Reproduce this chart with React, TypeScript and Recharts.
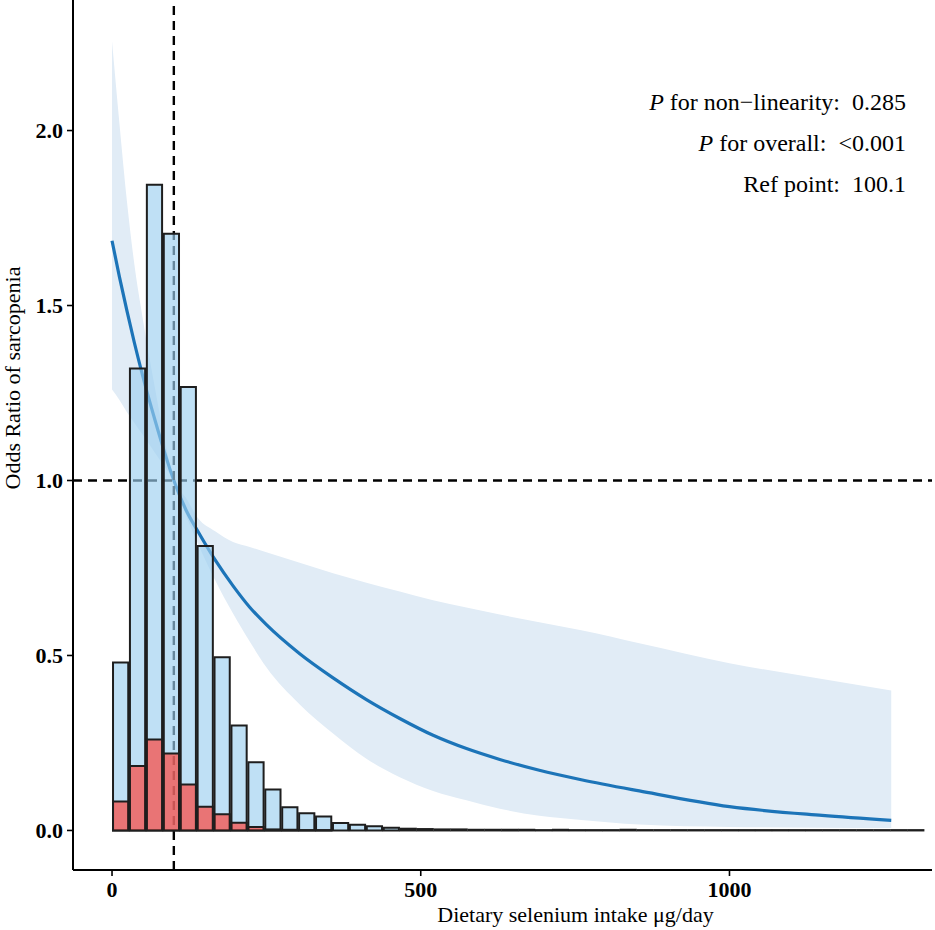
import { Area, Bar, ComposedChart, Customized, Line, ReferenceLine, XAxis, YAxis } from 'recharts'

const CHART_W = 935
const CHART_H = 930
const MARGIN = { top: 0, right: 3, bottom: 0, left: 0 }
const Y_AXIS_W = 73
const X_AXIS_H = 60
const X_DOMAIN: [number, number] = [-63.2, 1328]
const Y_DOMAIN: [number, number] = [-0.113, 2.373]
const BIN_WIDTH = 27.4
const REF_POINT = 100.1
const SERIF = '"Liberation Serif", "Times New Roman", serif'

const xTicks = [0, 500, 1000]
const yTicks = [0, 0.5, 1, 1.5, 2]

// histogram, scaled to the OR axis: everyone vs sarcopenia cases
const allCounts = [
  0.48, 1.32, 1.845, 1.705, 1.267, 0.813, 0.495, 0.3, 0.195, 0.117, 0.066, 0.049,
  0.04, 0.021, 0.016, 0.012, 0.008, 0.005, 0.004, 0.003, 0.003, 0.002, 0.002, 0.002,
  0.002, 0.001, 0.002, 0.001, 0.001, 0.001, 0.002, 0.001, 0.001, 0.001, 0.001, 0.001,
  0.001, 0.001, 0.001, 0.001, 0.001, 0.001, 0.001, 0.001, 0.001, 0.001, 0.001, 0.001,
]
const caseCounts = [
  0.083, 0.184, 0.26, 0.22, 0.131, 0.068, 0.046, 0.022, 0.01, 0.003, 0.002, 0.001,
  0.001,
]

// restricted cubic spline fit
const intakeGrid = [
  0, 12, 24, 36, 50, 70, 85, 100.1, 120, 139, 167, 196, 223, 250, 304, 358, 412, 466,
  520, 574, 628, 692, 760, 854, 1000, 1150, 1262,
]
const oddsRatio = [
  1.685, 1.582, 1.486, 1.395, 1.297, 1.17, 1.081, 1.0, 0.915, 0.855, 0.773, 0.699, 0.638,
  0.588, 0.505, 0.436, 0.374, 0.32, 0.272, 0.234, 0.203, 0.172, 0.145, 0.113, 0.068,
  0.043, 0.029,
]
const ciUpper = [
  2.255, 2.02, 1.8, 1.62, 1.46, 1.26, 1.12, 1.0, 0.95, 0.893, 0.855, 0.824, 0.81, 0.795,
  0.765, 0.735, 0.708, 0.683, 0.658, 0.637, 0.617, 0.595, 0.572, 0.535, 0.478, 0.433,
  0.4,
]
const ciLower = [
  1.26, 1.23, 1.196, 1.165, 1.13, 1.078, 1.039, 1.0, 0.9, 0.82, 0.715, 0.62, 0.54, 0.466,
  0.36, 0.277, 0.205, 0.152, 0.113, 0.086, 0.062, 0.042, 0.03, 0.017, 0.01, 0.008, 0.007,
]

const notes = [
  { italic: 'P', text: ' for non\u2212linearity:\u00a0\u00a00.285' },
  { italic: 'P', text: ' for overall:\u00a0\u00a0<0.001' },
  { italic: '', text: 'Ref point:\u00a0\u00a0100.1' },
]

const histRows = allCounts.map((total, i) => ({
  mid: (i + 0.5) * BIN_WIDTH,
  total,
  cases: caseCounts[i] ?? 0,
}))

const curveRows = intakeGrid.map((x, i) => ({
  x,
  or: oddsRatio[i],
  band: [ciLower[i], ciUpper[i]],
}))

const plotLeft = MARGIN.left + Y_AXIS_W
const plotWidth = CHART_W - plotLeft - MARGIN.right
const plotBottom = CHART_H - MARGIN.bottom - X_AXIS_H
const barPx = (BIN_WIDTH * plotWidth) / (X_DOMAIN[1] - X_DOMAIN[0])

const tickStyle = { fill: '#000', fontSize: 22, fontWeight: 700, fontFamily: SERIF }

function Titles() {
  const yCx = 12
  const yCy = 378
  return (
    <g fontFamily={SERIF} fill="#000">
      <text x={plotLeft + plotWidth / 2 + 73} y={plotBottom + 52} fontSize={22} textAnchor="middle">
        Dietary selenium intake μg/day
      </text>
      <text
        x={yCx}
        y={yCy}
        fontSize={22}
        textAnchor="middle"
        dominantBaseline="central"
        transform={`rotate(-90, ${yCx}, ${yCy})`}
      >
        Odds Ratio of sarcopenia
      </text>
      {notes.map((n, i) => (
        <text key={i} x={906} y={110 + i * 41} fontSize={24} textAnchor="end">
          {n.italic && <tspan fontStyle="italic">{n.italic}</tspan>}
          <tspan>{n.text}</tspan>
        </text>
      ))}
    </g>
  )
}

export default function App() {
  return (
    <>
      <style>{'body{margin:0;background:#fff}'}</style>
      <ComposedChart
        width={CHART_W}
        height={CHART_H}
        data={histRows}
        margin={MARGIN}
        barGap={0}
        barCategoryGap={0}
        style={{ fontFamily: SERIF }}
      >
        <XAxis
          xAxisId="curve"
          type="number"
          dataKey="x"
          domain={X_DOMAIN}
          allowDataOverflow
          ticks={xTicks}
          height={X_AXIS_H}
          axisLine={{ stroke: '#000', strokeWidth: 2 }}
          tickLine={{ stroke: '#000', strokeWidth: 1.6 }}
          tickSize={6}
          tickMargin={5}
          tick={tickStyle}
        />
        <XAxis xAxisId="hist" type="number" dataKey="mid" domain={X_DOMAIN} allowDataOverflow hide />
        <XAxis xAxisId="histCases" type="number" dataKey="mid" domain={X_DOMAIN} allowDataOverflow hide />
        <YAxis
          type="number"
          domain={Y_DOMAIN}
          allowDataOverflow
          ticks={yTicks}
          width={Y_AXIS_W}
          tickFormatter={(v) => Number(v).toFixed(1)}
          axisLine={{ stroke: '#000', strokeWidth: 2 }}
          tickLine={{ stroke: '#000', strokeWidth: 1.6 }}
          tickSize={6}
          tickMargin={4}
          tick={tickStyle}
        />
        <Area
          xAxisId="curve"
          data={curveRows}
          dataKey="band"
          type="monotone"
          fill="#e1ecf6"
          fillOpacity={1}
          stroke="none"
          isAnimationActive={false}
          zIndex={100}
        />
        <Line
          xAxisId="curve"
          data={curveRows}
          dataKey="or"
          type="monotone"
          stroke="#1c74b8"
          strokeWidth={3.2}
          dot={false}
          activeDot={false}
          isAnimationActive={false}
          zIndex={150}
        />
        <ReferenceLine xAxisId="curve" y={1} stroke="#000" strokeWidth={2.4} strokeDasharray="9 6" zIndex={200} />
        <ReferenceLine xAxisId="curve" x={REF_POINT} stroke="#000" strokeWidth={2.4} strokeDasharray="9 6" zIndex={200} />
        <Bar
          xAxisId="hist"
          dataKey="total"
          barSize={barPx}
          fill="#9dcff0"
          fillOpacity={0.65}
          stroke="#1e1e1e"
          strokeWidth={2}
          isAnimationActive={false}
          zIndex={300}
        />
        <Bar
          xAxisId="histCases"
          dataKey="cases"
          barSize={barPx}
          fill="#ff3b30"
          fillOpacity={0.65}
          stroke="#1e1e1e"
          strokeWidth={2}
          isAnimationActive={false}
          zIndex={310}
        />
        <Customized component={Titles} />
      </ComposedChart>
    </>
  )
}
